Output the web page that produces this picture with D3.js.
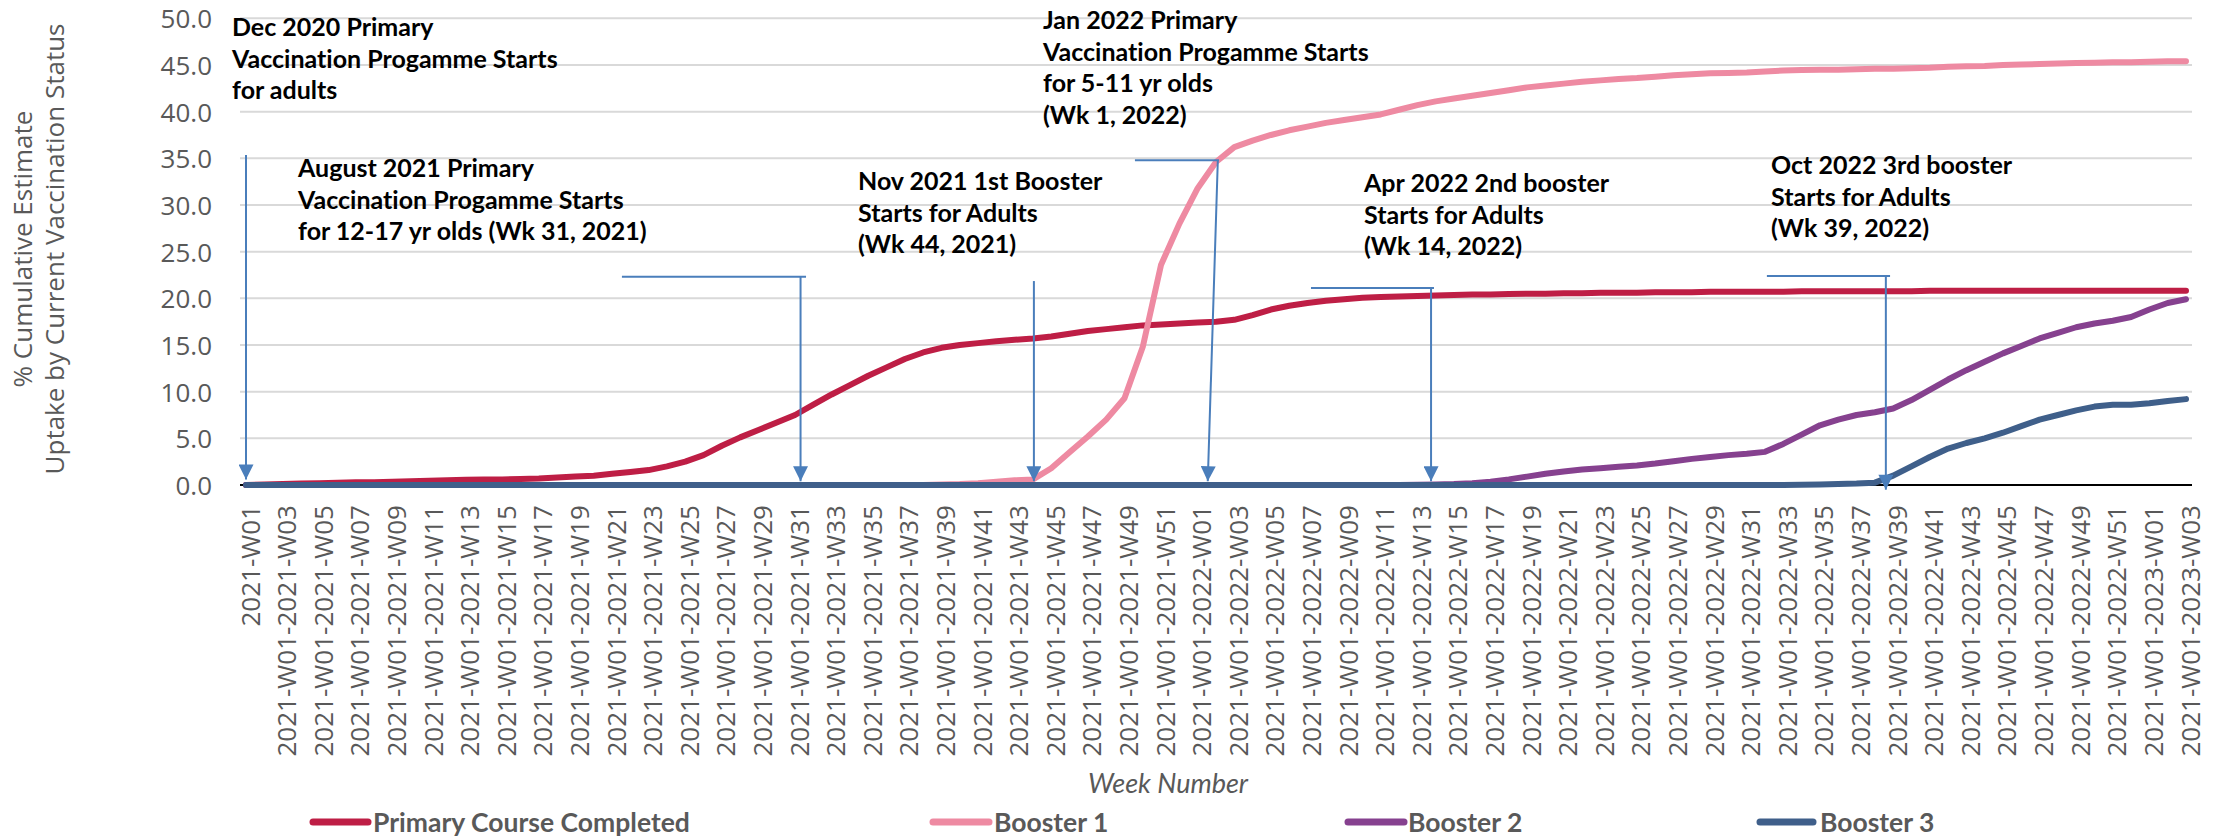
<!DOCTYPE html>
<html><head><meta charset="utf-8">
<script src="https://cdn.jsdelivr.net/npm/d3@7"></script>
<style>body{margin:0;background:#fff}svg{display:block;background:#fff}text{font-variant-ligatures:none;font-feature-settings:"liga" 0,"clig" 0}</style>
</head><body><svg id="chart" width="2216" height="840"></svg>
<script>
const categories = [
"2021-W01","2021-W02","2021-W03","2021-W04","2021-W05","2021-W06","2021-W07","2021-W08","2021-W09","2021-W10",
"2021-W11","2021-W12","2021-W13","2021-W14","2021-W15","2021-W16","2021-W17","2021-W18","2021-W19","2021-W20",
"2021-W21","2021-W22","2021-W23","2021-W24","2021-W25","2021-W26","2021-W27","2021-W28","2021-W29","2021-W30",
"2021-W31","2021-W32","2021-W33","2021-W34","2021-W35","2021-W36","2021-W37","2021-W38","2021-W39","2021-W40",
"2021-W41","2021-W42","2021-W43","2021-W44","2021-W45","2021-W46","2021-W47","2021-W48","2021-W49","2021-W50",
"2021-W51","2021-W52",
"2022-W01","2022-W02","2022-W03","2022-W04","2022-W05","2022-W06","2022-W07","2022-W08","2022-W09","2022-W10",
"2022-W11","2022-W12","2022-W13","2022-W14","2022-W15","2022-W16","2022-W17","2022-W18","2022-W19","2022-W20",
"2022-W21","2022-W22","2022-W23","2022-W24","2022-W25","2022-W26","2022-W27","2022-W28","2022-W29","2022-W30",
"2022-W31","2022-W32","2022-W33","2022-W34","2022-W35","2022-W36","2022-W37","2022-W38","2022-W39","2022-W40",
"2022-W41","2022-W42","2022-W43","2022-W44","2022-W45","2022-W46","2022-W47","2022-W48","2022-W49","2022-W50",
"2022-W51","2022-W52",
"2023-W01","2023-W02","2023-W03"];

const primaryCourse = [
0.0,0.05,0.1,0.15,0.2,0.25,0.3,0.3,0.35,0.4,
0.45,0.5,0.55,0.6,0.6,0.65,0.7,0.8,0.9,1.0,
1.2,1.4,1.6,2.0,2.5,3.2,4.2,5.1,5.9,6.7,
7.5,8.6,9.7,10.7,11.7,12.6,13.5,14.2,14.7,15.0,
15.2,15.4,15.55,15.7,15.9,16.2,16.5,16.7,16.9,17.1,
17.2,17.3,
17.4,17.5,17.7,18.2,18.8,19.2,19.5,19.75,19.9,20.05,
20.15,20.2,20.25,20.3,20.35,20.4,20.4,20.45,20.5,20.5,
20.55,20.55,20.6,20.6,20.6,20.65,20.65,20.65,20.7,20.7,
20.7,20.7,20.7,20.75,20.75,20.75,20.75,20.75,20.75,20.75,
20.8,20.8,20.8,20.8,20.8,20.8,20.8,20.8,20.8,20.8,
20.8,20.8,
20.8,20.8,20.8];

const booster1 = [
0,0,0,0,0,0,0,0,0,0,
0,0,0,0,0,0,0,0,0,0,
0,0,0,0,0,0,0,0,0,0,
0,0,0,0,0,0,0,0,0.05,0.1,
0.2,0.35,0.5,0.6,1.8,3.5,5.2,7.0,9.3,14.8,
23.6,28.0,
31.8,34.6,36.2,36.9,37.5,38.0,38.4,38.8,39.1,39.4,
39.7,40.2,40.7,41.1,41.4,41.7,42.0,42.3,42.6,42.8,
43.0,43.2,43.35,43.5,43.6,43.75,43.9,44.0,44.1,44.15,
44.2,44.3,44.4,44.45,44.5,44.5,44.55,44.6,44.6,44.65,
44.7,44.8,44.85,44.9,45.0,45.05,45.1,45.15,45.2,45.25,
45.3,45.3,
45.35,45.4,45.4];

const booster2 = [
0,0,0,0,0,0,0,0,0,0,
0,0,0,0,0,0,0,0,0,0,
0,0,0,0,0,0,0,0,0,0,
0,0,0,0,0,0,0,0,0,0,
0,0,0,0,0,0,0,0,0,0,
0,0,
0,0,0,0,0,0,0,0,0,0,
0,0,0.02,0.05,0.1,0.2,0.35,0.6,0.9,1.2,
1.45,1.65,1.8,1.95,2.1,2.3,2.55,2.8,3.0,3.2,
3.35,3.55,4.4,5.4,6.4,7.0,7.5,7.8,8.2,9.1,
10.2,11.3,12.3,13.2,14.1,14.9,15.7,16.3,16.9,17.3,
17.6,18.0,
18.8,19.5,19.9];

const booster3 = [
0,0,0,0,0,0,0,0,0,0,
0,0,0,0,0,0,0,0,0,0,
0,0,0,0,0,0,0,0,0,0,
0,0,0,0,0,0,0,0,0,0,
0,0,0,0,0,0,0,0,0,0,
0,0,
0,0,0,0,0,0,0,0,0,0,
0,0,0,0,0,0,0,0,0,0,
0,0,0,0,0,0,0,0,0,0,
0,0,0,0.02,0.05,0.1,0.15,0.25,1.0,2.0,
3.0,3.9,4.5,5.0,5.6,6.3,7.0,7.5,8.0,8.4,
8.6,8.6,
8.75,9.0,9.2];

const yTickValues = [0,5,10,15,20,25,30,35,40,45,50];
const seriesNames = ["Primary Course Completed","Booster 1","Booster 2","Booster 3"];
const seriesValues = [primaryCourse, booster1, booster2, booster3];
const seriesColors = ["#BE1E45","#EE8AA2","#86418F","#3F5F8A"];
const tickCategories = categories.filter((d, i) => i % 2 === 0);
const tickLabels = tickCategories.map((d, i) => i === 0 ? d : "2021-W01-" + d);

// annotation text boxes (layout)
const noteLines = [
  ["Dec 2020 Primary","Vaccination Progamme Starts","for adults"],
  ["August 2021 Primary","Vaccination Progamme Starts","for 12-17 yr olds (Wk 31, 2021)"],
  ["Nov 2021 1st Booster","Starts for Adults","(Wk 44, 2021)"],
  ["Jan 2022 Primary","Vaccination Progamme Starts","for 5-11 yr olds","(Wk 1, 2022)"],
  ["Apr 2022 2nd booster","Starts for Adults","(Wk 14, 2022)"],
  ["Oct 2022 3rd booster","Starts for Adults","(Wk 39, 2022)"]
];
const noteBoxes = [[232,27],[298,168],[858,181],[1043,20],[1364,183],[1771,165]];
// arrows in (week index, value) units: [x1,y1,x2,y2]
const arrowHoriz = [null,[20.54,22.3,30.6,22.3],null,[48.57,34.8,53.16,34.8],[58.19,21.1,64.91,21.1],[83.1,22.4,89.83,22.4]];
const arrowVert = [[0,35.35,0,0.6],[30.3,22.3,30.3,0.4],[43.05,21.85,43.05,0.4],[53.1,34.8,52.55,0.4],[64.75,21.1,64.75,0.4],[89.6,22.4,89.6,-0.5]];
const legendLayout = [[313,368,373],[933,989,994],[1348,1404,1408],[1760,1813,1820]];

const svg = d3.select("#chart");
const X0 = 246, X1 = 2186, GL = 240, GR = 2192;
const x = d3.scalePoint().domain(categories).range([X0, X1]);
const xi = d3.scaleLinear().domain([0, categories.length - 1]).range([X0, X1]);
const y = d3.scaleLinear().domain([0, 50]).range([485, 18.3]);

const AX_FONT = "'Open Sans', 'DejaVu Sans', sans-serif";
const NOTE_FONT = "Lato, 'Open Sans', sans-serif";

// gridlines
svg.append("g").selectAll("line").data(yTickValues).join("line")
  .attr("x1", GL).attr("x2", GR)
  .attr("y1", d => y(d)).attr("y2", d => y(d))
  .attr("stroke", "#d9d9d9").attr("stroke-width", 2);

// y axis labels
const yAxis = svg.append("g").attr("transform", "translate(212,0)")
  .call(d3.axisLeft(y).tickValues(yTickValues).tickFormat(d3.format(".1f")).tickSize(0).tickPadding(0));
yAxis.select(".domain").remove();
yAxis.selectAll("text").attr("font-family", AX_FONT).attr("font-size", 26).attr("fill", "#595959").attr("dy", "0.36em");

// x axis labels
const xAxis = svg.append("g").attr("transform", "translate(0,485)")
  .call(d3.axisBottom(x).tickValues(tickCategories).tickFormat((d, i) => tickLabels[i]).tickSize(0));
xAxis.select(".domain").remove();
xAxis.selectAll("text")
  .attr("font-family", AX_FONT).attr("font-size", 26).attr("fill", "#595959")
  .attr("transform", "rotate(-90)").attr("text-anchor", "end")
  .attr("x", -20).attr("y", 0).attr("dy", "0.5em");

// baseline axis
svg.append("line").attr("x1", GL).attr("x2", GR).attr("y1", y(0)).attr("y2", y(0))
  .attr("stroke", "#000").attr("stroke-width", 2);

// y axis title
const yt = svg.append("text").attr("transform", `translate(0,249) rotate(-90)`)
  .attr("text-anchor", "middle").attr("font-family", AX_FONT).attr("font-size", 26).attr("fill", "#595959");
yt.append("tspan").attr("x", 0).attr("y", 23).attr("dy", "0.36em").text("% Cumulative Estimate");
yt.append("tspan").attr("x", 0).attr("y", 55).attr("dy", "0.36em").text("Uptake by Current Vaccination Status");

// x axis title
svg.append("text").attr("x", 1168).attr("y", 783).attr("dy", "0.36em").attr("text-anchor", "middle")
  .attr("font-family", NOTE_FONT).attr("font-style", "italic").attr("font-size", 27).attr("fill", "#595959")
  .text("Week Number");

// series lines
const line = d3.line().x((d, i) => x(categories[i])).y(d => y(d));
svg.append("g").selectAll("path").data(seriesValues).join("path")
  .attr("d", d => line(d)).attr("fill", "none")
  .attr("stroke", (d, i) => seriesColors[i]).attr("stroke-width", 6)
  .attr("stroke-linejoin", "round").attr("stroke-linecap", "round");

// arrow marker
const defs = svg.append("defs");
defs.append("marker").attr("id", "ah").attr("viewBox", "0 0 10 10").attr("refX", 10).attr("refY", 5)
  .attr("markerWidth", 17).attr("markerHeight", 15).attr("markerUnits", "userSpaceOnUse").attr("orient", "auto")
  .append("path").attr("d", "M0,0L10,5L0,10Z").attr("fill", "#4A7EBB");

const ag = svg.append("g").attr("stroke", "#4A7EBB").attr("stroke-width", 2);
arrowHoriz.forEach(a => {
  if (!a) return;
  ag.append("line").attr("x1", xi(a[0])).attr("y1", y(a[1])).attr("x2", xi(a[2])).attr("y2", y(a[3]));
});
arrowVert.forEach(a => {
  ag.append("line").attr("x1", xi(a[0])).attr("y1", y(a[1])).attr("x2", xi(a[2])).attr("y2", y(a[3]))
    .attr("marker-end", "url(#ah)");
});

// annotation texts
noteLines.forEach((lines, k) => {
  const t = svg.append("text").attr("font-family", NOTE_FONT).attr("font-weight", 700)
    .attr("font-size", 25).attr("fill", "#000");
  lines.forEach((s, j) => {
    t.append("tspan").attr("x", noteBoxes[k][0]).attr("y", noteBoxes[k][1] + j * 31.6).attr("dy", "0.36em").text(s);
  });
});

// legend
const lg = svg.append("g");
seriesNames.forEach((name, i) => {
  const L = legendLayout[i];
  lg.append("line").attr("x1", L[0]).attr("x2", L[1]).attr("y1", 822).attr("y2", 822)
    .attr("stroke", seriesColors[i]).attr("stroke-width", 7).attr("stroke-linecap", "round");
  lg.append("text").attr("x", L[2]).attr("y", 822).attr("dy", "0.36em")
    .attr("font-family", NOTE_FONT).attr("font-weight", 700).attr("font-size", 26.5).attr("fill", "#595959")
    .text(name);
});
</script></body></html>
